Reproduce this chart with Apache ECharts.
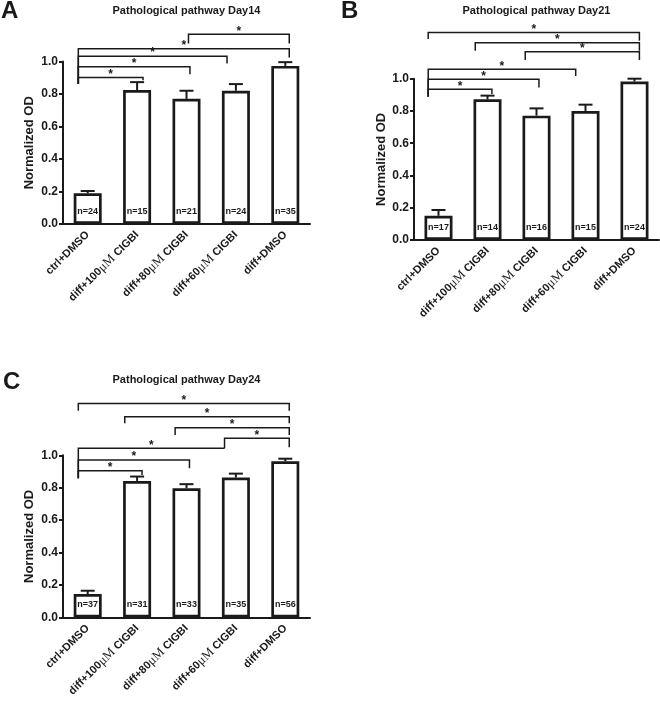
<!DOCTYPE html>
<html><head><meta charset="utf-8">
<script src="https://cdn.jsdelivr.net/npm/echarts@6/dist/echarts.min.js"></script>
<style>html,body{margin:0;padding:0;background:#fff}#c{width:660px;height:706px}</style>
</head><body><div id="c"></div>
<script>
// ---------- data ----------
const categories = ['ctrl+DMSO', 'diff+100μM CIGBI', 'diff+80μM CIGBI', 'diff+60μM CIGBI', 'diff+DMSO'];
const yTicks = [0.0, 0.2, 0.4, 0.6, 0.8, 1.0];
const titles = ['Pathological pathway Day14', 'Pathological pathway Day21', 'Pathological pathway Day24'];
const panelLetters = ['A', 'B', 'C'];

const meanA = [0.189, 0.824, 0.770, 0.820, 0.973];
const errTopA = [0.203, 0.873, 0.820, 0.861, 0.996];
const nA = [24, 15, 21, 24, 35];

const meanB = [0.150, 0.872, 0.771, 0.800, 0.983];
const errTopB = [0.186, 0.895, 0.816, 0.839, 1.000];
const nB = [17, 14, 16, 15, 24];

const meanC = [0.145, 0.842, 0.797, 0.863, 0.963];
const errTopC = [0.165, 0.869, 0.822, 0.887, 0.979];
const nC = [37, 31, 33, 35, 56];

// significance brackets: [from position, to position, bar level, left leg end, right leg end]
const bracketsA = [
  [-0.19, 1.12, 0.902, 0.861, 0.885],
  [-0.19, 2.07, 0.967, 0.861, 0.922],
  [-0.19, 2.82, 1.033, 0.861, 0.988],
  [-0.19, 4.08, 1.078, 0.861, 1.025],
  [2.04, 4.08, 1.168, 1.111, 1.111]
];
const bracketsB = [
  [-0.21, 1.09, 0.934, 0.888, 0.905],
  [-0.21, 2.05, 0.996, 0.888, 0.946],
  [-0.21, 2.80, 1.058, 0.888, 1.017],
  [1.77, 4.10, 1.167, 1.116, 1.116],
  [0.75, 4.10, 1.223, 1.174, 1.174],
  [-0.21, 4.10, 1.287, 1.246, 1.236]
];
const bracketsC = [
  [-0.19, 1.10, 0.904, 0.859, 0.879],
  [-0.19, 2.06, 0.971, 0.859, 0.920],
  [-0.19, 2.77, 1.043, 0.859, 1.043],
  [2.77, 4.08, 1.105, 1.043, 1.049],
  [1.77, 4.08, 1.170, 1.125, 1.125],
  [0.75, 4.08, 1.238, 1.197, 1.197],
  [-0.19, 4.08, 1.320, 1.275, 1.275]
];

// ---------- chart ----------
const FONT = '"Liberation Sans", Arial, Helvetica, sans-serif';
const INK = '#1a1a1a';
const panels = [
  {mean: meanA, err: errTopA, n: nA, br: bracketsA, grid: {left: 63, top: 61.5, width: 247, height: 162.5}, gap: 27},
  {mean: meanB, err: errTopB, n: nB, br: bracketsB, grid: {left: 414, top: 78.7, width: 245, height: 161.3}, gap: 24},
  {mean: meanC, err: errTopC, n: nC, br: bracketsC, grid: {left: 63, top: 455.3, width: 247, height: 162.2}, gap: 27}
];

function catLabel(v) {
  const k = v.indexOf('μM');
  if (k < 0) return '{a|' + v + '}';
  return '{a|' + v.slice(0, k) + '}{m|μM}{a|' + v.slice(k + 2) + '}';
}

function errRender(errArr) {
  return function (params, api) {
    const i = params.dataIndex;
    const base = api.coord([api.value(0), api.value(1)]);
    const top = api.coord([api.value(0), errArr[i]]);
    const half = 7;
    const st = {stroke: INK, lineWidth: 2, fill: null};
    return {type: 'group', children: [
      {type: 'line', shape: {x1: base[0], y1: base[1], x2: top[0], y2: top[1]}, style: st},
      {type: 'line', shape: {x1: top[0] - half, y1: top[1], x2: top[0] + half, y2: top[1]}, style: st}
    ]};
  };
}

function bracketRender(list) {
  return function (params, api) {
    const b = list[params.dataIndex];
    const p0 = api.coord([0, 0]), p1 = api.coord([1, 0]);
    const bw = p1[0] - p0[0];
    const X = p => p0[0] + p * bw;
    const Y = v => api.coord([0, v])[1];
    const xl = X(b[0]), xr = X(b[1]), y = Y(b[2]);
    return {type: 'group', children: [
      {type: 'polyline', shape: {points: [[xl, Y(b[3])], [xl, y], [xr, y], [xr, Y(b[4])]]},
        style: {stroke: INK, lineWidth: 1.5, fill: null}},
      {type: 'text', style: {text: '*', x: (xl + xr) / 2, y: y + 3, align: 'center', verticalAlign: 'bottom',
        font: 'bold 12px ' + FONT, fill: INK}}
    ]};
  };
}

const grids = [], xAxes = [], yAxes = [], series = [], graphics = [];
panels.forEach((p, i) => {
  grids.push(Object.assign({containLabel: false}, p.grid));
  xAxes.push({
    gridIndex: i, type: 'category', data: categories,
    axisLine: {lineStyle: {color: INK, width: 2}},
    axisTick: {alignWithLabel: true, length: 5, lineStyle: {color: INK, width: 2}},
    axisLabel: {
      interval: 0, rotate: 45, margin: 9, formatter: catLabel,
      rich: {
        a: {fontFamily: FONT, fontWeight: 'bold', fontSize: 11, color: INK},
        m: {fontFamily: '"Liberation Serif", "Times New Roman", serif', fontWeight: 'normal', fontSize: 13, color: INK}
      }
    }
  });
  yAxes.push({
    gridIndex: i, type: 'value', min: yTicks[0], max: yTicks[yTicks.length - 1], interval: yTicks[1] - yTicks[0],
    axisLine: {show: true, lineStyle: {color: INK, width: 2}},
    axisTick: {show: true, length: 4, lineStyle: {color: INK, width: 2}},
    splitLine: {show: false},
    axisLabel: {formatter: v => v.toFixed(1), color: INK, fontFamily: FONT, fontWeight: 'bold', fontSize: 12, margin: 5},
    name: 'Normalized OD', nameLocation: 'middle', nameGap: p.gap,
    nameTextStyle: {color: INK, fontFamily: FONT, fontWeight: 'bold', fontSize: 13}
  });
  series.push({
    type: 'bar', xAxisIndex: i, yAxisIndex: i, data: p.mean, barWidth: 28,
    itemStyle: {color: '#fff', borderColor: INK, borderWidth: 2.7},
    label: {show: true, position: 'insideBottom', distance: 8,
      formatter: prm => 'n=' + p.n[prm.dataIndex],
      fontFamily: FONT, fontWeight: 'bold', fontSize: 9, color: INK},
    silent: true, z: 2
  });
  series.push({
    type: 'custom', xAxisIndex: i, yAxisIndex: i, z: 3,
    data: p.mean.map((v, k) => [k, v]),
    renderItem: errRender(p.err), silent: true
  });
  series.push({
    type: 'custom', xAxisIndex: i, yAxisIndex: i, z: 4, clip: false,
    data: p.br.map((b, k) => [0, b[2]]),
    renderItem: bracketRender(p.br), silent: true
  });
  const g = p.grid;
  const cx = g.left + g.width / 2;
  const titleY = [11, 11, 380][i];
  graphics.push({type: 'text', x: cx, y: titleY, style: {text: titles[i], align: 'center', verticalAlign: 'middle',
    font: 'bold 11px ' + FONT, fill: INK}});
});
graphics.push({type: 'text', x: 1, y: 11, style: {text: panelLetters[0], align: 'left', verticalAlign: 'middle', font: 'bold 24px ' + FONT, fill: INK}});
graphics.push({type: 'text', x: 341, y: 11, style: {text: panelLetters[1], align: 'left', verticalAlign: 'middle', font: 'bold 24px ' + FONT, fill: INK}});
graphics.push({type: 'text', x: 3, y: 382, style: {text: panelLetters[2], align: 'left', verticalAlign: 'middle', font: 'bold 24px ' + FONT, fill: INK}});

const chart = echarts.init(document.getElementById('c'), null, {renderer: 'canvas'});
chart.setOption({
  backgroundColor: '#fff', animation: false,
  grid: grids, xAxis: xAxes, yAxis: yAxes, series: series, graphic: graphics
});
</script>
</body></html>
